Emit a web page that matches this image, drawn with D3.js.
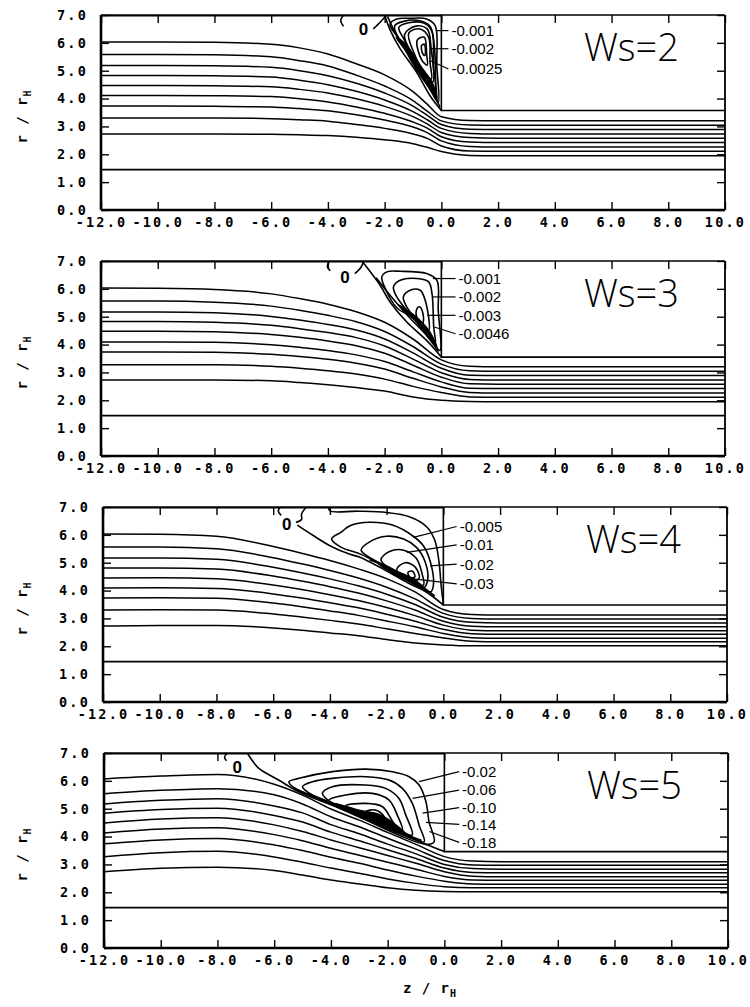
<!DOCTYPE html>
<html>
<head>
<meta charset="utf-8">
<script src="https://cdn.jsdelivr.net/npm/d3@7"></script>
<style>
  body { margin: 0; background: #fff; }
  svg { display: block; }
  .axis text { font-family: "DejaVu Sans Mono", monospace; font-weight: bold; font-size: 13.5px; letter-spacing: 2.2px; fill: #000; }
  .axis line { stroke: #000; stroke-width: 1.4; }
  .lev { font-family: "Liberation Sans", Arial, sans-serif; font-size: 15px; fill: #000; }
</style>
</head>
<body>
<svg id="chart" width="750" height="1007"></svg>
<script>
// ---- data ----
const panelNames = ["Ws=2", "Ws=3", "Ws=4", "Ws=5"];
const zTicks = [-12, -10, -8, -6, -4, -2, 0, 2, 4, 6, 8, 10];
const rTicks = [0, 1, 2, 3, 4, 5, 6, 7];
const bodyBottom = [3.57, 3.55, 3.48, 3.46];
const innerLine = 1.45;

// streamlines, r values on a z grid
const zGrid1 = [-12, -10, -8, -6, -5, -4, -3, -2, -1, -0.5, 0, 1, 2, 10];
const stream1 = [
  [6.03, 6.03, 6.02, 5.95, 5.82, 5.6, 5.25, 4.85, 4.25, 3.8, 3.35, 3.21, 3.2, 3.2],
  [5.58, 5.58, 5.57, 5.5, 5.36, 5.17, 4.84, 4.45, 3.93, 3.55, 3.2, 3.05, 3.04, 3.04],
  [5.19, 5.19, 5.18, 5.12, 5.0, 4.82, 4.55, 4.2, 3.73, 3.4, 3.07, 2.9, 2.89, 2.89],
  [4.83, 4.83, 4.82, 4.77, 4.66, 4.5, 4.26, 3.95, 3.53, 3.24, 2.93, 2.75, 2.73, 2.73],
  [4.47, 4.47, 4.46, 4.42, 4.33, 4.2, 3.99, 3.72, 3.35, 3.09, 2.78, 2.6, 2.58, 2.58],
  [4.11, 4.11, 4.1, 4.07, 3.99, 3.88, 3.7, 3.47, 3.16, 2.94, 2.63, 2.44, 2.42, 2.42],
  [3.73, 3.73, 3.72, 3.7, 3.64, 3.56, 3.42, 3.23, 2.98, 2.78, 2.48, 2.28, 2.26, 2.26],
  [3.3, 3.3, 3.3, 3.28, 3.24, 3.19, 3.07, 2.93, 2.73, 2.57, 2.3, 2.12, 2.11, 2.11],
  [2.73, 2.73, 2.73, 2.72, 2.7, 2.67, 2.61, 2.52, 2.38, 2.25, 2.1, 1.96, 1.95, 1.95]
];
const zGrid = [-12, -10, -8, -6, -5, -4, -3, -2, -1, 0, 1, 2, 10];
const stream2 = [
  [6.03, 6.02, 5.98, 5.82, 5.65, 5.45, 5.18, 4.8, 4.2, 3.45, 3.22, 3.2, 3.2],
  [5.56, 5.56, 5.52, 5.38, 5.23, 5.05, 4.82, 4.47, 3.93, 3.3, 3.06, 3.04, 3.04],
  [5.17, 5.17, 5.14, 5.01, 4.88, 4.72, 4.52, 4.2, 3.7, 3.15, 2.9, 2.89, 2.89],
  [4.83, 4.83, 4.8, 4.69, 4.57, 4.43, 4.25, 3.95, 3.48, 2.99, 2.75, 2.73, 2.73],
  [4.48, 4.48, 4.46, 4.36, 4.26, 4.13, 3.96, 3.69, 3.26, 2.83, 2.59, 2.58, 2.58],
  [4.09, 4.09, 4.08, 3.99, 3.9, 3.79, 3.63, 3.39, 3.02, 2.66, 2.43, 2.42, 2.42],
  [3.73, 3.73, 3.72, 3.65, 3.57, 3.47, 3.33, 3.12, 2.79, 2.48, 2.28, 2.26, 2.26],
  [3.28, 3.28, 3.28, 3.22, 3.15, 3.06, 2.94, 2.76, 2.5, 2.28, 2.12, 2.11, 2.11],
  [2.73, 2.73, 2.73, 2.7, 2.64, 2.56, 2.46, 2.33, 2.12, 2.0, 1.96, 1.95, 1.95]
];
const stream3 = [
  [6.03, 6.02, 5.95, 5.58, 5.34, 5.08, 4.78, 4.43, 3.95, 3.32, 3.14, 3.12, 3.12],
  [5.56, 5.56, 5.5, 5.18, 4.96, 4.72, 4.45, 4.12, 3.7, 3.18, 3.0, 2.98, 2.98],
  [5.17, 5.17, 5.12, 4.84, 4.64, 4.42, 4.17, 3.87, 3.5, 3.04, 2.86, 2.84, 2.84],
  [4.81, 4.81, 4.77, 4.52, 4.34, 4.14, 3.91, 3.63, 3.3, 2.9, 2.72, 2.7, 2.7],
  [4.45, 4.46, 4.42, 4.2, 4.04, 3.85, 3.64, 3.39, 3.1, 2.76, 2.58, 2.56, 2.56],
  [4.09, 4.1, 4.07, 3.88, 3.73, 3.56, 3.38, 3.15, 2.9, 2.61, 2.45, 2.43, 2.43],
  [3.73, 3.74, 3.72, 3.55, 3.42, 3.27, 3.11, 2.91, 2.7, 2.46, 2.31, 2.29, 2.29],
  [3.3, 3.31, 3.3, 3.16, 3.05, 2.93, 2.8, 2.63, 2.46, 2.3, 2.18, 2.16, 2.16],
  [2.73, 2.75, 2.75, 2.66, 2.58, 2.48, 2.38, 2.24, 2.12, 2.05, 2.02, 2.02, 2.02]
];
const stream4 = [
  [6.07, 6.17, 6.23, 5.88, 5.49, 4.99, 4.59, 4.15, 3.72, 3.28, 3.12, 3.1, 3.1],
  [5.54, 5.66, 5.72, 5.5, 5.17, 4.71, 4.35, 3.94, 3.55, 3.14, 2.98, 2.97, 2.97],
  [5.17, 5.3, 5.36, 5.1, 4.85, 4.43, 4.1, 3.73, 3.38, 3.0, 2.85, 2.83, 2.83],
  [4.84, 4.97, 5.02, 4.76, 4.52, 4.16, 3.85, 3.53, 3.21, 2.87, 2.71, 2.7, 2.7],
  [4.49, 4.63, 4.68, 4.42, 4.18, 3.88, 3.6, 3.32, 3.04, 2.74, 2.58, 2.56, 2.56],
  [4.13, 4.27, 4.32, 4.07, 3.85, 3.58, 3.33, 3.08, 2.83, 2.57, 2.44, 2.43, 2.43],
  [3.74, 3.88, 3.93, 3.7, 3.5, 3.26, 3.04, 2.8, 2.58, 2.4, 2.3, 2.29, 2.29],
  [3.28, 3.42, 3.47, 3.27, 3.08, 2.87, 2.68, 2.48, 2.32, 2.2, 2.16, 2.16, 2.16],
  [2.74, 2.86, 2.9, 2.78, 2.62, 2.44, 2.3, 2.16, 2.07, 2.03, 2.02, 2.02, 2.02]
];

// zero (separatrix) contour pieces and band lines, [z, r]
const zero1 = [
  [[-3.45, 7.0], [-3.55, 6.8], [-3.45, 6.6]],
  [[-2.4, 6.5], [-2.15, 6.75], [-1.95, 6.97]],
  [[-2.0, 7.0], [-1.8, 6.45], [-1.46, 5.8], [-0.87, 4.94], [-0.4, 4.1], [0, 3.57]],
  [[-1.9, 6.95], [-1.62, 6.35], [-1.3, 5.8], [-0.8, 5.05], [-0.35, 4.3], [-0.05, 3.7]]
];
const zero2 = [
  [[-3.95, 7.0], [-4.02, 6.8], [-3.92, 6.65]],
  [[-3.05, 6.55], [-2.85, 6.75], [-2.75, 6.95]],
  [[-2.78, 6.97], [-2.16, 6.13], [-1.81, 5.53], [-1.22, 4.81], [-0.52, 4.15], [0, 3.55]],
  [[-2.3, 6.4], [-1.75, 5.7], [-1.15, 5.0], [-0.5, 4.3], [-0.1, 3.75]]
];
const zero3 = [
  [[-5.75, 7.0], [-5.82, 6.85], [-5.72, 6.7]],
  [[-5.2, 6.45], [-5.0, 6.55], [-5.0, 6.75], [-4.85, 6.97]],
  [[-5.15, 6.35], [-4.76, 6.09], [-4.0, 5.61], [-3.29, 5.3], [-2.94, 5.2], [-2.12, 4.77], [-1.29, 4.3], [-0.59, 3.94], [0, 3.48]],
  [[-4.05, 7.0], [-4.0, 6.86], [-3.0, 6.85], [-2.0, 6.8], [-1.2, 6.65], [-0.6, 6.3], [-0.3, 5.8], [-0.15, 5.0], [-0.08, 4.2], [0, 3.5]],
  [[-2.6, 5.1], [-2.0, 4.88], [-1.3, 4.48], [-0.7, 4.1], [-0.3, 3.8]]
];
const zero4 = [
  [[-7.65, 7.0], [-7.75, 6.85], [-7.68, 6.72]],
  [[-6.95, 7.0], [-6.75, 6.7], [-6.54, 6.45], [-5.83, 6.02], [-5.12, 5.6], [-3.95, 5.12], [-2.54, 4.5], [-1.13, 3.92], [-0.3, 3.58], [0, 3.46]],
  [[-5.3, 5.72], [-4.5, 5.4], [-3.5, 5.0], [-2.5, 4.58], [-1.5, 4.14], [-0.8, 3.86]],
  [[-4.8, 5.55], [-4.0, 5.22], [-3.0, 4.82], [-2.0, 4.4], [-1.2, 4.04]]
];

// closed recirculation contours, [z, r]
const vortex1 = [
  [[-1.81, 6.68], [-1.57, 6.86], [-1.1, 6.88], [-0.52, 6.86], [-0.22, 6.62], [-0.16, 5.18], [-0.11, 3.87], [-0.34, 4.22], [-0.87, 5.1], [-1.34, 5.95], [-1.75, 6.5]],
  [[-1.65, 6.6], [-1.3, 6.78], [-0.8, 6.8], [-0.4, 6.6], [-0.25, 5.9], [-0.2, 4.6], [-0.18, 4.0], [-0.4, 4.35], [-0.85, 5.0], [-1.3, 5.8]],
  [[-1.5, 6.55], [-1.15, 6.72], [-0.6, 6.7], [-0.33, 6.4], [-0.28, 5.2], [-0.22, 4.3], [-0.45, 4.55], [-0.9, 5.3], [-1.3, 6.1]],
  [[-1.3, 6.3], [-0.9, 6.6], [-0.5, 6.5], [-0.36, 5.8], [-0.3, 4.6], [-0.5, 4.75], [-0.95, 5.45]],
  [[-1.15, 6.35], [-0.75, 6.5], [-0.45, 6.2], [-0.4, 5.3], [-0.35, 4.7], [-0.6, 4.95], [-0.95, 5.6]],
  [[-0.85, 6.1], [-0.6, 6.2], [-0.52, 5.6], [-0.5, 5.2], [-0.7, 5.4]],
  [[-0.7, 5.9], [-0.6, 5.95], [-0.58, 5.55], [-0.65, 5.6]]
];
const vortex2 = [
  [[-2.1, 6.43], [-1.92, 6.61], [-1.45, 6.63], [-0.52, 6.55], [-0.16, 6.31], [-0.11, 5.23], [-0.05, 3.79], [-0.4, 4.2], [-1.0, 4.95], [-1.57, 5.32], [-1.95, 5.95]],
  [[-1.69, 6.07], [-1.45, 6.31], [-0.86, 6.37], [-0.45, 6.25], [-0.33, 5.83], [-0.27, 4.63], [-0.22, 4.03], [-0.63, 4.51], [-1.22, 5.23], [-1.57, 5.71]],
  [[-1.34, 5.71], [-1.1, 5.95], [-0.75, 5.95], [-0.57, 5.59], [-0.45, 4.51], [-0.75, 4.75], [-1.22, 5.35]],
  [[-0.86, 5.29], [-0.75, 5.35], [-0.63, 4.99], [-0.69, 4.63], [-0.86, 4.93]]
];
const vortex3 = [
  [[-3.94, 5.85], [-3.6, 6.1], [-3.29, 6.33], [-2.6, 6.45], [-1.8, 6.35], [-1.06, 5.95], [-0.7, 5.6], [-0.45, 5.0], [-0.35, 4.2], [-0.45, 3.95], [-1.0, 4.25], [-1.9, 4.75], [-2.9, 5.3], [-3.6, 5.55]],
  [[-2.9, 5.45], [-2.6, 5.75], [-2.0, 5.95], [-1.4, 5.85], [-0.95, 5.55], [-0.65, 5.05], [-0.55, 4.4], [-0.7, 4.1], [-1.3, 4.4], [-2.1, 4.9]],
  [[-2.2, 5.1], [-1.9, 5.4], [-1.4, 5.45], [-0.95, 5.15], [-0.75, 4.6], [-0.7, 4.2], [-1.05, 4.25], [-1.6, 4.6]],
  [[-1.65, 4.75], [-1.35, 5.0], [-1.0, 4.85], [-0.85, 4.45], [-1.05, 4.35], [-1.4, 4.5]],
  [[-1.25, 4.65], [-1.1, 4.7], [-1.0, 4.5], [-1.15, 4.45]]
];
const vortex4 = [
  [[-5.48, 5.97], [-5.12, 6.09], [-3.95, 6.33], [-2.77, 6.42], [-1.83, 6.33], [-1.24, 6.15], [-0.89, 5.85], [-0.65, 5.25], [-0.54, 4.53], [-0.36, 3.81], [-0.65, 3.72], [-1.6, 4.05], [-2.77, 4.6], [-3.95, 5.15], [-4.89, 5.55], [-5.36, 5.8]],
  [[-5.0, 5.79], [-4.65, 5.97], [-3.95, 6.09], [-2.77, 6.15], [-1.95, 6.03], [-1.48, 5.73], [-1.13, 5.19], [-0.89, 4.41], [-0.71, 3.81], [-1.13, 3.95], [-2.18, 4.4], [-3.36, 4.9], [-4.42, 5.35]],
  [[-4.3, 5.55], [-3.95, 5.79], [-2.77, 5.85], [-2.07, 5.73], [-1.6, 5.37], [-1.36, 4.77], [-1.13, 4.05], [-1.6, 4.2], [-2.77, 4.7], [-3.95, 5.2]],
  [[-4.07, 5.3], [-3.48, 5.49], [-2.54, 5.55], [-1.95, 5.31], [-1.66, 4.77], [-1.48, 4.2], [-1.95, 4.35], [-3.0, 4.8], [-3.71, 5.1]],
  [[-3.48, 5.1], [-2.77, 5.19], [-2.18, 5.07], [-1.89, 4.65], [-1.71, 4.3], [-2.18, 4.45], [-3.0, 4.85]],
  [[-2.77, 4.89], [-2.42, 4.95], [-2.12, 4.71], [-2.07, 4.5], [-2.42, 4.6]]
];

// dark, densely packed parts of the recirculation zone
const core1 = [[-1.6, 6.2], [-1.1, 5.5], [-0.6, 4.75], [-0.15, 3.95], [-0.28, 4.5], [-0.75, 5.2], [-1.25, 5.95]];
const core2 = [[-1.55, 5.45], [-1.0, 4.95], [-0.5, 4.42], [-0.15, 3.9], [-0.4, 4.45], [-0.95, 5.05]];
const core3 = [[-2.3, 4.98], [-1.7, 4.72], [-1.1, 4.45], [-0.7, 4.12], [-1.2, 4.32], [-1.9, 4.68]];
const core4 = [[-3.9, 5.2], [-3.0, 4.95], [-2.3, 4.8], [-1.7, 4.42], [-1.35, 4.08], [-2.2, 4.42], [-3.0, 4.75]];

// contour level labels and their leader lines
const levels1 = ["-0.001", "-0.002", "-0.0025"];
const levels2 = ["-0.001", "-0.002", "-0.003", "-0.0046"];
const levels3 = ["-0.005", "-0.01", "-0.02", "-0.03"];
const levels4 = ["-0.02", "-0.06", "-0.10", "-0.14", "-0.18"];
const leaders1 = [[[-0.16, 6.44], [0.25, 6.44]], [[-0.39, 5.79], [0.25, 5.79]], [[-0.39, 5.36], [0.25, 5.06]]];
const leaders2 = [[[-0.3, 6.37], [0.5, 6.37]], [[-0.3, 5.71], [0.5, 5.71]], [[-0.5, 5.05], [0.5, 5.05]], [[-0.25, 4.63], [0.5, 4.39]]];
const leaders3 = [[[-1.06, 5.91], [0.47, 6.3]], [[-1.29, 5.37], [0.47, 5.64]], [[-0.47, 4.89], [0.47, 4.95]], [[-1.3, 4.45], [0.47, 4.24]]];
const leaders4 = [[[-0.89, 5.97], [0.52, 6.33]], [[-1.12, 5.37], [0.52, 5.67]], [[-0.77, 4.84], [0.52, 5.04]], [[-0.65, 4.51], [0.52, 4.44]], [[-0.53, 4.18], [0.52, 3.79]]];
const zeroLabelPos = [[-2.75, 6.5], [-3.4, 6.43], [-5.52, 6.39], [-7.3, 6.51]];

const grids = [zGrid1, zGrid, zGrid, zGrid];
const streams = [stream1, stream2, stream3, stream4];
const zeros = [zero1, zero2, zero3, zero4];
const vortices = [vortex1, vortex2, vortex3, vortex4];
const cores = [core1, core2, core3, core4];
const levels = [levels1, levels2, levels3, levels4];
const leaders = [leaders1, leaders2, leaders3, leaders4];

// ---- drawing ----
const svg = d3.select("#chart");
const W = 624, H = 195;
const panelLeft = [101, 101, 103, 104];
const panelTop = [15, 261, 507, 753];

const x = d3.scaleLinear().domain([-12, 10]).range([0, W]);
const y = d3.scaleLinear().domain([0, 7]).range([H, 0]);

const smooth = d3.line().x(d => x(d[0])).y(d => y(d[1])).curve(d3.curveMonotoneX);
const path = d3.line().x(d => x(d[0])).y(d => y(d[1])).curve(d3.curveCatmullRom.alpha(0.5));
const loop = d3.line().x(d => x(d[0])).y(d => y(d[1])).curve(d3.curveCatmullRomClosed.alpha(0.5));
const straight = d3.line().x(d => x(d[0])).y(d => y(d[1]));
const fmt = d => d.toFixed(1);

panelNames.forEach((name, i) => {
  const g = svg.append("g").attr("transform", `translate(${panelLeft[i]},${panelTop[i]})`);

  g.append("clipPath").attr("id", "clip" + i)
    .append("rect").attr("width", W).attr("height", H);
  const plot = g.append("g").attr("clip-path", `url(#clip${i})`);

  // inner boundary line
  plot.append("path").attr("d", straight([[-12, innerLine], [10, innerLine]]))
    .attr("fill", "none").attr("stroke", "#000").attr("stroke-width", 1.6);

  // streamlines
  plot.selectAll(".stream").data(streams[i]).join("path")
    .attr("class", "stream")
    .attr("d", rs => smooth(grids[i].map((z, k) => [z, rs[k]])))
    .attr("fill", "none").attr("stroke", "#000").attr("stroke-width", 1.5);

  // body outline
  plot.append("path").attr("d", straight([[0, 7], [0, bodyBottom[i]], [10, bodyBottom[i]]]))
    .attr("fill", "none").attr("stroke", "#000").attr("stroke-width", 1.6);

  // dark core of the eddy
  plot.append("path").attr("d", loop(cores[i]))
    .attr("fill", "#000").attr("stroke", "#000").attr("stroke-width", 1.2);

  // zero contour
  plot.selectAll(".zero").data(zeros[i]).join("path")
    .attr("class", "zero").attr("d", path)
    .attr("fill", "none").attr("stroke", "#000").attr("stroke-width", 1.6);

  // recirculation contours
  plot.selectAll(".vort").data(vortices[i]).join("path")
    .attr("class", "vort").attr("d", loop)
    .attr("fill", "none").attr("stroke", "#000").attr("stroke-width", 1.6);

  // leader lines
  plot.selectAll(".lead").data(leaders[i]).join("path")
    .attr("class", "lead").attr("d", straight)
    .attr("fill", "none").attr("stroke", "#000").attr("stroke-width", 1.2);

  // wall at r = 7 upstream of the body
  plot.append("path").attr("d", straight([[-12, 7], [0, 7]]))
    .attr("stroke", "#000").attr("stroke-width", 3.2);

  // level labels
  g.selectAll(".lev").data(levels[i]).join("text")
    .attr("class", "lev")
    .attr("x", (d, k) => x(leaders[i][k][1][0]) + 3)
    .attr("y", (d, k) => y(leaders[i][k][1][1]))
    .attr("dy", "0.36em")
    .text(d => d);

  g.append("text")
    .attr("x", x(zeroLabelPos[i][0])).attr("y", y(zeroLabelPos[i][1]))
    .attr("dy", "0.36em").attr("text-anchor", "middle")
    .style("font-family", "Liberation Sans, Arial, sans-serif")
    .style("font-size", "17px").style("font-weight", "bold")
    .text("0");

  g.append("text")
    .attr("x", x(6.7)).attr("y", y(5.35))
    .attr("text-anchor", "middle")
    .style("font-family", "Open Sans, sans-serif")
    .style("font-weight", 300).style("font-size", "38px")
    .text(name);

  // axes
  g.append("g").attr("class", "axis").attr("transform", `translate(0,${H})`)
    .call(d3.axisBottom(x).tickValues(zTicks).tickSize(-8).tickSizeOuter(0).tickPadding(7).tickFormat(fmt))
    .call(a => a.select(".domain").remove());
  g.append("g").attr("class", "axis")
    .call(d3.axisTop(x).tickValues(zTicks).tickSize(-8).tickSizeOuter(0).tickFormat(""))
    .call(a => a.select(".domain").remove());
  g.append("g").attr("class", "axis")
    .call(d3.axisLeft(y).tickValues(rTicks).tickSize(-8).tickSizeOuter(0).tickPadding(13).tickFormat(fmt))
    .call(a => a.select(".domain").remove());
  g.append("g").attr("class", "axis").attr("transform", `translate(${W},0)`)
    .call(d3.axisRight(y).tickValues(rTicks).tickSize(-8).tickSizeOuter(0).tickFormat(""))
    .call(a => a.select(".domain").remove());

  // frame
  const edge = (pts, w) => g.append("path").attr("d", straight(pts))
    .attr("fill", "none").attr("stroke", "#000").attr("stroke-width", w);
  edge([[-12, 7], [10, 7]], 1.3);
  edge([[-12, 0], [-12, 7]], 2.6);
  edge([[-12, 0], [10, 0]], 2.4);
  edge([[10, 0], [10, 7]], 1.8);

  // y axis title
  const yt = svg.append("text")
    .attr("transform", `translate(27,${panelTop[i] + H / 2 + 4}) rotate(-90)`)
    .attr("text-anchor", "middle")
    .style("font-family", "DejaVu Sans Mono, monospace")
    .style("font-weight", "bold").style("font-size", "14px").style("letter-spacing", "1px");
  yt.append("tspan").text("r / r");
  yt.append("tspan").attr("dy", 4).style("font-size", "10px").text("H");
});

// x axis title
const xt = svg.append("text")
  .attr("x", 430).attr("y", 993).attr("text-anchor", "middle")
  .style("font-family", "DejaVu Sans Mono, monospace")
  .style("font-weight", "bold").style("font-size", "14px").style("letter-spacing", "1px");
xt.append("tspan").text("z / r");
xt.append("tspan").attr("dy", 4).style("font-size", "10px").text("H");
</script>
</body>
</html>
